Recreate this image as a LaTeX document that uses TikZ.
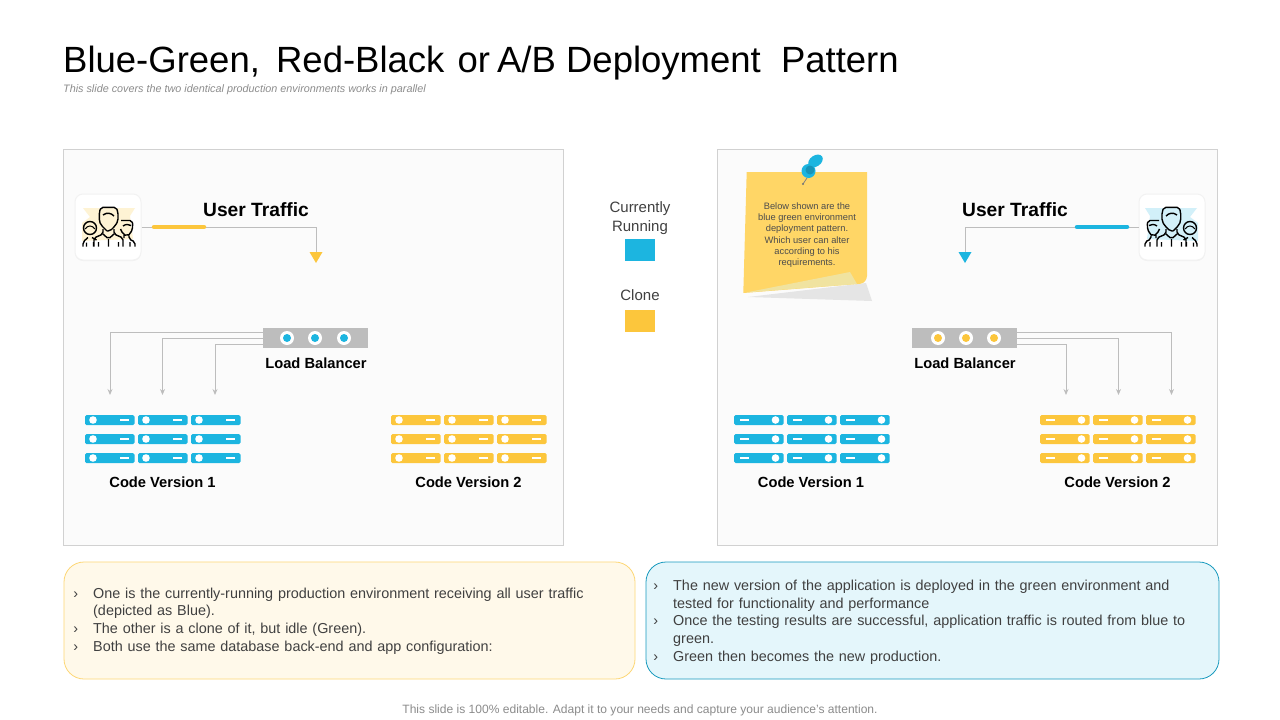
\documentclass[tikz,border=0pt]{standalone}
\usepackage{fontspec}
\setmainfont{Liberation Sans}
\usepackage{tikz}
\usetikzlibrary{positioning, arrows.meta, shapes, shadows}

\definecolor{blueC}{HTML}{1CB5E0}
\definecolor{yellowC}{HTML}{FCC63C}
\definecolor{lineC}{HTML}{BDBDBD}
\definecolor{panelC}{HTML}{FBFBFB}
\definecolor{textC}{HTML}{404040}
\definecolor{stickyC}{HTML}{FFD666}
\definecolor{foldC}{HTML}{F0E3A0}

\newcommand{\fsize}[1]{\fontsize{#1}{#1}\selectfont}

% rack units, colour and corner
\newcommand{\rackdotleft}[3]{
    \fill[#1, rounded corners=1.5] (#2,#3) rectangle ++(49.5,10);
    \fill[white] (#2+8,#3+5) circle (3.8);
    \fill[white] (#2+35,#3+3.8) rectangle ++(9,2.4);
}
\newcommand{\rackdotright}[3]{
    \fill[#1, rounded corners=1.5] (#2,#3) rectangle ++(49.5,10);
    \fill[white] (#2+41.5,#3+5) circle (3.8);
    \fill[white] (#2+6,#3+3.8) rectangle ++(9,2.4);
}
% three people, centre x, mirror, tint
\newcommand{\peopleicon}[3]{
    \begin{scope}[shift={(#1,227)}, xscale=#2]
        \fill[#3] (-25,-19) -- (27,-19) -- (22,-11) -- (25,12) -- (-26,14) -- (-26,-4) -- (-18,-10) -- cycle;
        \draw[black, line width=1.4pt, rounded corners=2pt, line join=round]
            (-1,4) -- (-7,-2) -- (-8.7,-6) -- (-8.7,-15) -- (-7,-19.7) -- (8,-19.7) -- (10,-15) -- (10,-6) -- (7,-1) -- (2,4) -- (-1,4)
            (-5,2) -- (-5,7) -- (-14,11) -- (-14,19.7)
            (6,2) -- (6,7) -- (15,11) -- (15,19.7)
            (-5,7) -- (0.5,12) -- (6,7)
            (0.5,12) -- (0.5,19.7)
            (-9.5,15) -- (-9.5,19.7)
            (10.5,15) -- (10.5,19.7)
            (-5,-12) .. controls (-1,-15) and (3,-14) .. (6,-11)
            (-25,19.7) -- (-25,15) -- (-20,10.5) (-16,10.5) -- (-11.5,13)
            (-21.5,15.5) -- (-21.5,19.7)
            (-14.5,15) -- (-14.5,19.7)
            (13,-6.5) -- (24,-6.5) -- (25,-1) -- (23,6) -- (19,9) -- (15,7) -- (12.5,2)
            (15,-1) .. controls (18,-3) and (20,-3) .. (23,-1.5)
            (16,8) -- (16,11)
            (21,8.5) -- (21,12) -- (27,15) -- (27,19.7)
            (22,15) -- (22,19.7);
        \draw[black, line width=1.4pt] (-18,1) circle (6.5);
        \draw[black, line width=1pt] (-23,2) .. controls (-20,-2) and (-16,-2) .. (-13,2);
    \end{scope}
}

\begin{document}
\begin{tikzpicture}
            [x=1pt, y=-1pt,
             panel/.style={draw=black!18, fill=panelC, line width=0.8pt, outer sep=0pt, inner sep=0pt,
                 minimum width=500pt, minimum height=396pt, anchor=north west},
             iconbox/.style={draw=black!5, fill=white, rounded corners=8pt, line width=1pt, minimum size=66pt, inner sep=0pt,
                 drop shadow={opacity=0.08, shadow xshift=0pt, shadow yshift=-1pt}},
             balancer/.style={fill=lineC, minimum width=105pt, minimum height=20pt, inner sep=0pt, outer sep=0pt},
             swatch/.style={minimum width=30pt, minimum height=22pt, inner sep=0pt, outer sep=0pt},
             wire/.style={draw=lineC, line width=0.9pt},
             wiretip/.style={wire, -{Stealth[length=6pt, width=5pt]}},
             heading/.style={font=\bfseries\fsize{19.2}, text=black},
             caption/.style={font=\bfseries\fsize{14.7}, text=black},
             legend/.style={font=\fsize{15}, text=textC, align=center},
             notebox/.style={rounded corners=20pt, line width=0.8pt},
             notetext/.style={font=\fontsize{14.4}{17.7}\selectfont, text=textC, align=left, anchor=west, text width=530pt, inner sep=0pt}]
            \useasboundingbox (0,0) rectangle (1280,720);
            \fill[white] (0,0) rectangle (1280,720);

            % heading
            \node[anchor=base west, inner sep=0pt, font=\fsize{36.5}, text=black] (title) at (63,72) {Blue-Green,\hspace{6pt} Red-Black\hspace{3pt} or\hspace{-3pt} A/B Deployment\hspace{10pt} Pattern};
            \node[anchor=base west, inner sep=0pt, font=\itshape\fsize{10.8}, text=black!45] (subtitle) at (63,92) {This slide covers the two identical production environments works in parallel};

            % panels
            \node[panel] (panelL) at (63.5,149.5) {};
            \node[panel] (panelR) at (717.5,149.5) {};

            % legend
            \node[legend] (running) at (640,218) {Currently\\[4pt]Running};
            \node[swatch, fill=blueC] (swatchrun) at (640,250) {};
            \node[legend] (clone) at (640,295) {Clone};
            \node[swatch, fill=yellowC] (swatchclone) at (640,321) {};

            % left side
            \node[iconbox] (userL) at (108,227) {};
            \peopleicon{108}{1}{yellowC!22}
            \node[heading] (trafficL) at (256,210) {User Traffic};
            \coordinate (tipL) at (316,252);
            \draw[wire] (userL.east) -| (tipL);
            \fill[yellowC] (309.5,252) -- (322.5,252) -- (316,263) -- cycle;
            \draw[yellowC, line width=4.5pt, line cap=round] (154,227) -- (204,227);

            \node[balancer] (lbL) at (315.5,338) {};
            \foreach \x in {287,315,344} {
                \fill[white] (\x,338) circle (7);
                \fill[blueC] (\x,338) circle (4);
            }
            \node[caption] (lbtextL) at (316,363) {Load Balancer};
            \coordinate (a1) at (110,395);
            \coordinate (a2) at (162.5,395);
            \coordinate (a3) at (215,395);
            \draw[wiretip] ([yshift=5.5pt]lbL.west) -| (a1);
            \draw[wiretip] (lbL.west) -| (a2);
            \draw[wiretip] ([yshift=-6.5pt]lbL.west) -| (a3);

            \foreach \x in {85,138,191}
                \foreach \y in {415,434,453} {
                    \rackdotleft{blueC}{\x}{\y}
                }
            \foreach \x in {391,444,497}
                \foreach \y in {415,434,453} {
                    \rackdotleft{yellowC}{\x}{\y}
                }
            \node[caption] (codeL1) at (162.5,482) {Code Version 1};
            \node[caption] (codeL2) at (468.5,482) {Code Version 2};

            % sticky note
            \fill[black!10] (748,297) -- (866,283) -- (872,301) -- cycle;
            \fill[stickyC] (746.7,172) -- (867,172) -- (867,276) .. controls (866,283) and (862,284) .. (857,284) -- (743.3,293) -- cycle;
            \fill[foldC] (746,292.5) -- (850,272) -- (857,284) -- cycle;
            \node[font=\fsize{9.3}, text=black!70, align=center, inner sep=0pt] (notetextS) at (807,235) {Below shown are the\\[2pt]blue green environment\\[2pt]deployment pattern.\\[2pt]Which user can alter\\[2pt]according to his\\[2pt]requirements.};
            % pin
            \draw[black!50, line width=0.8pt] (807,178) -- (803,184);
            \fill[black!55] (803,184) circle (1.2);
            \fill[blueC, rotate around={35:(815.5,161)}] (815.5,161) ellipse (8 and 5.5);
            \fill[blueC] (808.5,171) circle (7);
            \fill[blueC!82!black] (810,170) circle (4.5);

            % right side
            \node[iconbox] (userR) at (1172,227) {};
            \peopleicon{1172}{-1}{blueC!20}
            \node[heading] (trafficR) at (1015,210) {User Traffic};
            \coordinate (tipR) at (965,252);
            \draw[wire] (userR.west) -| (tipR);
            \fill[blueC] (958.5,252) -- (971.5,252) -- (965,263) -- cycle;
            \draw[blueC, line width=4.5pt, line cap=round] (1077,227) -- (1127,227);

            \node[balancer] (lbR) at (964.5,338) {};
            \foreach \x in {938,966,994} {
                \fill[white] (\x,338) circle (7);
                \fill[yellowC] (\x,338) circle (4);
            }
            \node[caption] (lbtextR) at (965,363) {Load Balancer};
            \coordinate (b1) at (1066,395);
            \coordinate (b2) at (1118.5,395);
            \coordinate (b3) at (1171.5,395);
            \draw[wiretip] ([yshift=-6.5pt]lbR.east) -| (b1);
            \draw[wiretip] (lbR.east) -| (b2);
            \draw[wiretip] ([yshift=5.5pt]lbR.east) -| (b3);

            \foreach \x in {734,787,840}
                \foreach \y in {415,434,453} {
                    \rackdotright{blueC}{\x}{\y}
                }
            \foreach \x in {1040,1093,1146}
                \foreach \y in {415,434,453} {
                    \rackdotright{yellowC}{\x}{\y}
                }
            \node[caption] (codeR1) at (811,482) {Code Version 1};
            \node[caption] (codeR2) at (1117.5,482) {Code Version 2};

            % bottom boxes
            \filldraw[notebox, draw=yellowC!70, fill=yellowC!11] (64,562) rectangle (635,679);
            \filldraw[notebox, draw=blueC!85!black, fill=blueC!12] (646,562) rectangle (1219,679);
            \newcommand{\bul}{\makebox[0pt][r]{›\hspace{15pt}}}
            \node[notetext] (textL) at (93,621) {\bul One is the currently-running production environment receiving all user traffic\\(depicted as Blue).\\\bul The other is a clone of it, but idle (Green).\\\bul Both use the same database back-end and app configuration:};
            \node[notetext] (textR) at (673,622) {\bul The new version of the application is deployed in the green environment and\\tested for functionality and performance\\\bul Once the testing results are successful, application traffic is routed from blue to\\green.\\\bul Green then becomes the new production.};

            % footer
            \node[font=\fsize{12.05}, text=black!45] (footer) at (640,710) {This slide is 100\% editable. Adapt it to your needs and capture your audience's attention.};
        \end{tikzpicture}
\end{document}
